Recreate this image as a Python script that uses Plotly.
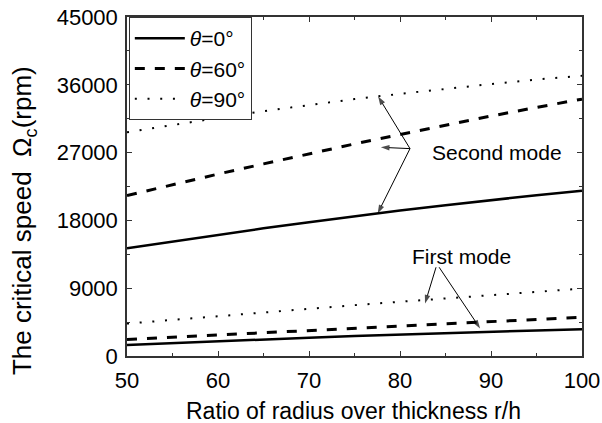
import plotly.graph_objects as go

# ---------------- data ----------------
ratio = [50, 55, 60, 65, 70, 75, 80, 85, 90, 95, 100]

# second mode critical speeds (rpm)
second_0 = [14300, 15200, 16100, 16950, 17750, 18550, 19300, 20000, 20700, 21350, 21950]
second_60 = [21300, 22750, 24150, 25500, 26850, 28150, 29400, 30650, 31850, 33000, 34100]
second_90 = [29700, 30700, 31600, 32500, 33300, 34100, 34800, 35500, 36100, 36700, 37200]

# first mode critical speeds (rpm)
first_0 = [1450, 1710, 1970, 2210, 2430, 2650, 2850, 3050, 3230, 3390, 3550]
first_60 = [2200, 2500, 2780, 3070, 3360, 3650, 3950, 4250, 4550, 4850, 5150]
first_90 = [4300, 4800, 5300, 5800, 6300, 6750, 7200, 7650, 8100, 8550, 8950]

legend_names = ["<i>θ</i>=0°", "<i>θ</i>=60°", "<i>θ</i>=90°"]
x_ticks = [50, 60, 70, 80, 90, 100]
y_ticks = [0, 9000, 18000, 27000, 36000, 45000]
y_tick_labels = ["0", "9000", "18000", "27000", "36000", "45000"]

x_title = "Ratio of radius over thickness r/h"
y_title = "The critical speed  Ω<sub>c</sub>(rpm)"

# annotation labels and arrows (data coords)
second_label = ("Second mode", 90.7, 27000)
second_tail = (81.1, 27530)
second_tips = [(77.6, 34450), (77.9, 27700), (77.55, 18930)]
first_label = ("First mode", 86.8, 13235)
first_tails = [(83.96, 11780), (84.3, 11780)]
first_tips = [(82.75, 6975), (88.8, 3666)]

FONT = "Arial, Liberation Sans, sans-serif"
styles = [
    dict(color="black", width=2.5, dash="solid"),
    dict(color="black", width=3, dash="10px,10px"),
    dict(color="black", width=2, dash="2px,10.7px"),
]

fig = go.Figure()
for name, ys1, st in zip(legend_names, [second_0, second_60, second_90], styles):
    fig.add_trace(go.Scatter(x=ratio, y=ys1, mode="lines", name=name, line=st,
                             showlegend=True, hoverinfo="skip"))
for name, ys2, st in zip(legend_names, [first_0, first_60, first_90], styles):
    fig.add_trace(go.Scatter(x=ratio, y=ys2, mode="lines", name=name, line=st,
                             showlegend=False, hoverinfo="skip"))

# arrows drawn as two-point lines with an arrow marker at the tip
arrow_pairs = [(second_tail, t) for t in second_tips] + list(zip(first_tails, first_tips))
for tail, tip in arrow_pairs:
    fig.add_trace(go.Scatter(
        x=[tail[0], tip[0]], y=[tail[1], tip[1]], mode="lines+markers",
        line=dict(color="black", width=1),
        marker=dict(symbol="arrow", size=[0, 9], angleref="previous", color="black",
                    line=dict(width=0)),
        showlegend=False, hoverinfo="skip"))

annotations = []
annotations.append(dict(text=second_label[0], x=second_label[1], y=second_label[2],
                        xref="x", yref="y", showarrow=False,
                        font=dict(family=FONT, size=21, color="black")))
annotations.append(dict(text=first_label[0], x=first_label[1], y=first_label[2],
                        xref="x", yref="y", showarrow=False,
                        font=dict(family=FONT, size=21, color="black")))
annotations.append(dict(text=x_title, x=0.498, y=-0.162, xref="paper", yref="paper",
                        xanchor="center", yanchor="middle", showarrow=False,
                        font=dict(family=FONT, size=23, color="black")))
annotations.append(dict(text=y_title, x=-0.227, y=0.40, xref="paper", yref="paper",
                        xanchor="center", yanchor="middle", showarrow=False, textangle=-90,
                        font=dict(family=FONT, size=26, color="black")))

axis_common = dict(
    showgrid=False, zeroline=False, showline=True, linecolor="#333333", linewidth=1.5,
    mirror="allticks", ticks="inside", ticklen=5, tickwidth=1.2, tickcolor="#333333",
    tickfont=dict(family=FONT, size=22, color="black"), automargin=False,
)

fig.update_layout(
    template="none",
    width=602, height=423,
    margin=dict(l=127, r=20, t=17, b=67),
    paper_bgcolor="white", plot_bgcolor="white",
    annotations=annotations,
    legend=dict(x=0.004, y=1.0, xanchor="left", yanchor="top",
                bordercolor="#333333", borderwidth=1, bgcolor="white",
                font=dict(family=FONT, size=21, color="black"),
                itemwidth=50, tracegroupgap=0),
    xaxis=dict(range=[50, 100], tickvals=x_ticks, ticktext=[str(v) for v in x_ticks],
               ticklabelstandoff=4,
               minor=dict(dtick=5, tick0=50, ticks="inside", ticklen=3, tickcolor="#333333"),
               **axis_common),
    yaxis=dict(range=[0, 45000], tickvals=y_ticks, ticktext=y_tick_labels,
               ticklabelstandoff=3,
               minor=dict(dtick=4500, tick0=0, ticks="inside", ticklen=3, tickcolor="#333333"),
               **axis_common),
)

fig.write_html("out.html")
